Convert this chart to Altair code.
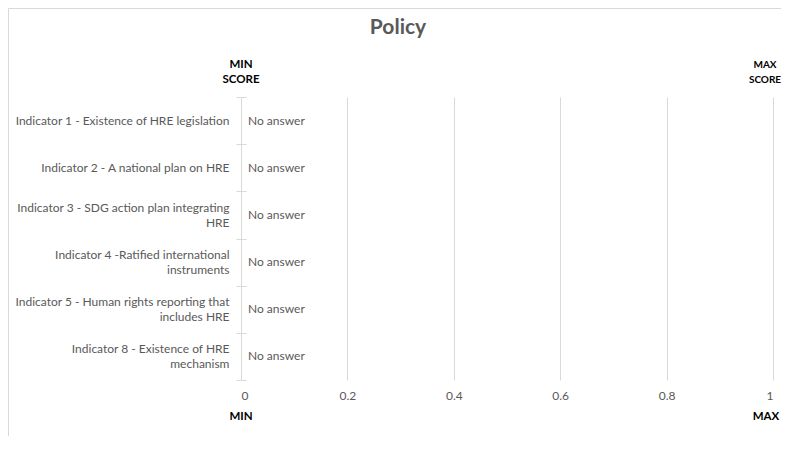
import altair as alt
import pandas as pd

indicators = [
    "Indicator 1 - Existence of HRE legislation",
    "Indicator 2 - A national plan on HRE",
    "Indicator 3 - SDG action plan integrating\nHRE",
    "Indicator 4 -Ratified international\ninstruments",
    "Indicator 5 - Human rights reporting that\nincludes HRE",
    "Indicator 8 - Existence of HRE\nmechanism",
]
scores = [None, None, None, None, None, None]
answers = ["No answer"] * 6
x_ticks = [0, 0.2, 0.4, 0.6, 0.8, 1]

df = pd.DataFrame({"indicator": indicators, "score": scores, "answer": answers})

W, H = 532, 283
FONT = "Lato"
GRAY = "#595959"
LINE = "#d9d9d9"

yenc = alt.Y(
    "indicator:N",
    sort=indicators,
    scale=alt.Scale(paddingInner=0, paddingOuter=0),
    axis=alt.Axis(
        title=None,
        labelExpr="split(datum.label, '\\n')",
        labelFont=FONT,
        labelFontSize=12,
        labelColor=GRAY,
        labelLineHeight=15,
        labelLimit=400,
        labelPadding=7,
        labelBaseline="middle",
        labelOffset={"condition": {"test": "indexof(datum.label, '\\n') >= 0", "value": -7.5}, "value": 0},
        domain=False,
        ticks=True,
        tickBand="extent",
        tickSize=10,
        tickColor=LINE,
        offset=-5,
        grid=False,
    ),
)

xenc = alt.X(
    datum=0,
    type="quantitative",
    scale=alt.Scale(domain=[0, 1], nice=False, zero=True),
    axis=alt.Axis(
        title=None,
        values=x_ticks,
        format="~g",
        grid=True,
        gridColor=LINE,
        gridWidth=1,
        domain=False,
        ticks=False,
        tickSize=0,
        labelFont=FONT,
        labelFontSize=12,
        labelColor=GRAY,
        labelPadding=10,
    ),
)

bars = alt.Chart(df).mark_bar(color="#4472c4").encode(
    x=alt.X("score:Q"),
    y=alt.Y("indicator:N", sort=indicators),
)

text = alt.Chart(df).mark_text(
    align="left", baseline="middle", dx=7, font=FONT, fontSize=12, color=GRAY
).encode(x=xenc, y=yenc, text="answer:N")

ann = pd.DataFrame({
    "pos": [0, 1],
    "top": [["MIN", "SCORE"], ["MAX", "SCORE"]],
    "bottom": ["MIN", "MAX"],
})

def ann_layers(pos, dx_top, dx_bot, size_top):
    base = alt.Chart(ann).transform_filter(alt.datum.pos == pos)
    top = base.mark_text(
        font=FONT, fontSize=size_top, fontWeight="bold", color="#000000",
        baseline="middle", align="center", lineHeight=15, dx=dx_top,
    ).encode(x=alt.X("pos:Q"), y=alt.value(-32), text="top")
    bot = base.mark_text(
        font=FONT, fontSize=11.5, fontWeight="bold", color="#000000",
        baseline="middle", align="center", dx=dx_bot,
    ).encode(x=alt.X("pos:Q"), y=alt.value(H + 37), text="bottom:N")
    return [top, bot]

title = alt.Chart(pd.DataFrame({"t": ["Policy"]})).mark_text(
    font=FONT, fontSize=21, fontWeight="bold", color=GRAY,
    align="center", baseline="middle",
).encode(x=alt.value(157), y=alt.value(-69), text="t:N")

frame = alt.Chart(pd.DataFrame({"f": [0]})).mark_rect(
    fillOpacity=0, stroke=LINE, strokeWidth=1
).encode(x=alt.value(-232.5), x2=alt.value(700), y=alt.value(-88.5), y2=alt.value(600))

chart = alt.layer(
    frame, bars, text,
    *ann_layers(0, 0, 0, 11.5),
    *ann_layers(1, -8, -7, 10),
    title,
).properties(
    width=W, height=H,
    padding={"left": 233, "top": 89, "right": 8, "bottom": 56},
    autosize=alt.AutoSizeParams(type="none"),
    background="white",
).configure_view(stroke=None)

chart.save("out.html", embed_options={"renderer": "svg", "actions": False})
